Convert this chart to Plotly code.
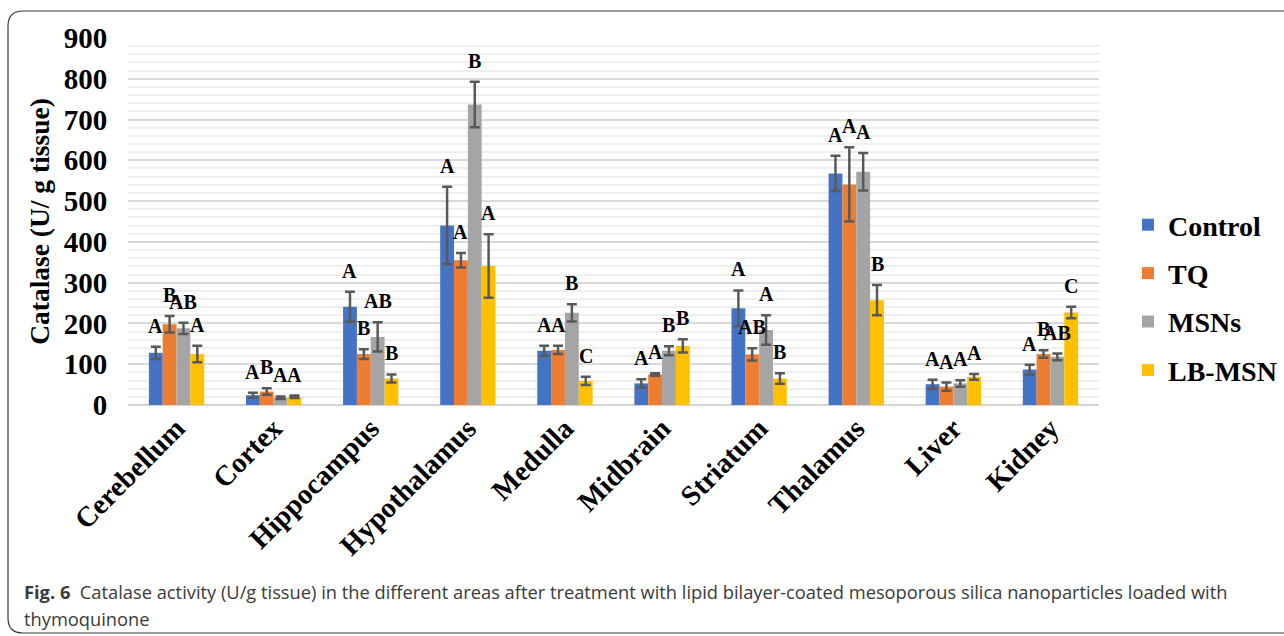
import plotly.graph_objects as go

# Tissue regions and treatment groups
categories = ["Cerebellum", "Cortex", "Hippocampus", "Hypothalamus", "Medulla",
              "Midbrain", "Striatum", "Thalamus", "Liver", "Kidney"]

control = [128, 24, 241, 440, 133, 53, 237, 568, 51, 87]
control_err = [15, 6, 37, 95, 12, 10, 44, 43, 11, 12]
control_sig = ["A", "A", "A", "A", "A", "A", "A", "A", "A", "A"]

tq = [198, 33, 125, 355, 135, 75, 124, 541, 45, 125]
tq_err = [20, 8, 12, 18, 10, 3, 15, 91, 10, 9]
tq_sig = ["B", "B", "B", "A", "A", "A", "AB", "A", "A", "B"]

msns = [188, 18, 167, 737, 226, 133, 184, 572, 53, 118]
msns_err = [14, 3, 36, 56, 21, 11, 36, 46, 8, 8]
msns_sig = ["AB", "A", "AB", "B", "B", "B", "A", "A", "A", "AB"]

lbmsn = [125, 20, 65, 341, 59, 145, 65, 257, 69, 227]
lbmsn_err = [20, 3, 10, 78, 10, 16, 13, 37, 7, 14]
lbmsn_sig = ["A", "A", "B", "A", "C", "B", "B", "B", "A", "C"]

series = [
    ("Control", control, control_err, control_sig, "#4472C4"),
    ("TQ", tq, tq_err, tq_sig, "#ED7D31"),
    ("MSNs", msns, msns_err, msns_sig, "#A5A5A5"),
    ("LB-MSN", lbmsn, lbmsn_err, lbmsn_sig, "#FFC000"),
]

y_ticks = [0, 100, 200, 300, 400, 500, 600, 700, 800, 900]

W, H = 1284, 636
L, R, T, B = 128, 185, 38, 231
PW, PH = W - L - R, H - T - B

SERIF = "Liberation Serif, Times New Roman, serif"
SANS = "Open Sans, Noto Sans, sans-serif"
BARGAP = 0.43


def px_x(px):
    return (px - L) / PW


def px_y(py):
    return (H - B - py) / PH


fig = go.Figure()

for name, vals, errs, sig, color in series:
    fig.add_trace(go.Bar(
        name=name,
        x=categories,
        y=vals,
        marker=dict(color=color, line=dict(width=0)),
        error_y=dict(type="data", array=errs, visible=True,
                     color="#595959", thickness=2.5, width=5),
        legendgroup=name,
    ))

# significance letters above each error bar
bar_w = (1 - BARGAP) / len(series)
annotations = []
for j, (name, vals, errs, sig, color) in enumerate(series):
    offset = (j - (len(series) - 1) / 2) * bar_w
    for i in range(len(categories)):
        annotations.append(dict(
            x=i + offset, y=vals[i] + errs[i], xref="x", yref="y",
            text=sig[i], showarrow=False, yanchor="bottom", yshift=8,
            font=dict(family=SERIF, size=20, color="#000000", weight="bold"),
        ))

# figure caption
cap_font = dict(family=SANS, size=18.3, color="#3a3a3a")
annotations.append(dict(
    x=px_x(22), y=px_y(591), xref="paper", yref="paper",
    xanchor="left", yanchor="middle", showarrow=False, align="left",
    text="<b>Fig. 6</b>  Catalase activity (U/g tissue) in the different areas after treatment with "
         "lipid bilayer-coated mesoporous silica nanoparticles loaded with",
    font=cap_font,
))
annotations.append(dict(
    x=px_x(22), y=px_y(618), xref="paper", yref="paper",
    xanchor="left", yanchor="middle", showarrow=False, align="left",
    text="thymoquinone", font=cap_font,
))

# rounded frame around the figure
fx0, fy0, fx1, fy1, rad = 8, 11, 1300, 633, 15
frame_path = (
    f"M {px_x(fx0)},{px_y(fy0 + rad)} "
    f"Q {px_x(fx0)},{px_y(fy0)} {px_x(fx0 + rad)},{px_y(fy0)} "
    f"L {px_x(fx1)},{px_y(fy0)} "
    f"L {px_x(fx1)},{px_y(fy1)} "
    f"L {px_x(fx0 + rad)},{px_y(fy1)} "
    f"Q {px_x(fx0)},{px_y(fy1)} {px_x(fx0)},{px_y(fy1 - rad)} Z"
)

fig.update_layout(
    width=W, height=H,
    margin=dict(l=L, r=R, t=T, b=B, autoexpand=False),
    paper_bgcolor="white", plot_bgcolor="white",
    barmode="group", bargap=BARGAP, bargroupgap=0,
    font=dict(family=SERIF, color="#000000"),
    showlegend=True,
    legend=dict(
        x=px_x(1128), y=px_y(200), xanchor="left", yanchor="top",
        font=dict(family=SERIF, size=28, color="#000000", weight="bold"),
        tracegroupgap=9, bgcolor="rgba(0,0,0,0)",
    ),
    xaxis=dict(
        type="category", tickangle=-45, showgrid=False, showline=False,
        ticks="", zeroline=False,
        tickfont=dict(family=SERIF, size=28.5, color="#000000", weight="bold"),
    ),
    yaxis=dict(
        range=[0, 900], tickvals=y_ticks, ticktext=[str(v) for v in y_ticks],
        showgrid=True, gridcolor="#d9d9d9", gridwidth=2,
        minor=dict(dtick=20, showgrid=True, gridcolor="#efefef", gridwidth=2),
        zeroline=True, zerolinecolor="#d4d4d4", zerolinewidth=2,
        showline=False,
        ticks="outside", ticklen=14, tickcolor="rgba(0,0,0,0)",
        tickfont=dict(family=SERIF, size=29, color="#000000", weight="bold"),
        title=dict(text="Catalase (U/ g tissue)", standoff=6,
                   font=dict(family=SERIF, size=27.5, color="#000000", weight="bold")),
    ),
    annotations=annotations,
    shapes=[dict(type="path", path=frame_path, xref="paper", yref="paper",
                 line=dict(color="#3a3a3a", width=1.2), fillcolor="rgba(0,0,0,0)",
                 layer="below")],
)

fig.write_html("out.html")
